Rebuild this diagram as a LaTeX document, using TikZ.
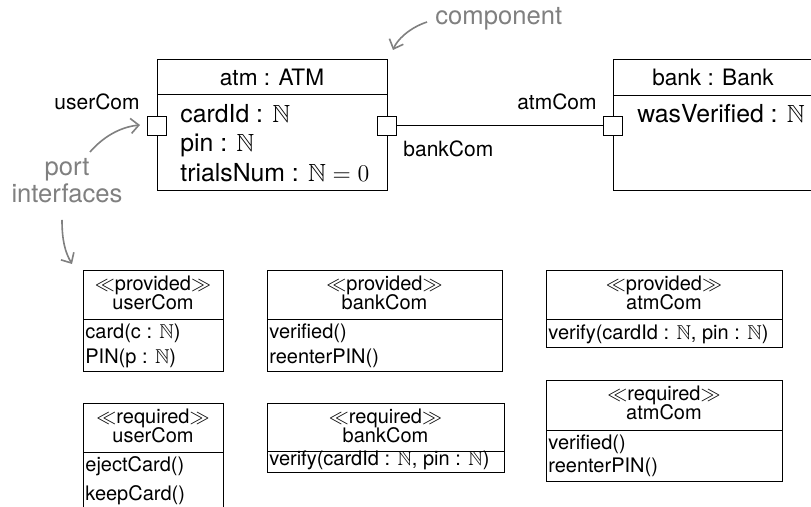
\documentclass[tikz,border=0pt]{standalone}
\usepackage{amssymb}
\usepackage{fontspec}
\setmainfont{TeX Gyre Heros}
\usetikzlibrary{arrows.meta,fit}

\newcommand{\Nat}{\ensuremath{\mathbb{N}}}
\newcommand{\stereo}[1]{$\ll$#1$\gg$}

\definecolor{notegray}{HTML}{808080}

\tikzset{
  titletxt/.style={inner sep=0pt, font=\fontsize{11.3}{13.5}\selectfont},
  txt/.style={inner sep=0pt, font=\fontsize{10.5}{12.5}\selectfont},
  attrtxt/.style={inner sep=0pt, font=\fontsize{12.4}{15}\selectfont},
  smalltxt/.style={inner sep=0pt, font=\fontsize{10}{12}\selectfont},
  notetxt/.style={inner sep=0pt, text=notegray, font=\fontsize{12.8}{15}\selectfont},
  frame/.style={draw, line width=0.5pt, inner sep=0pt},
  port/.style={draw, line width=0.5pt, fill=white, minimum size=9.5pt, inner sep=0pt},
  wire/.style={line width=0.5pt},
  notearrow/.style={draw=notegray, line width=0.8pt,
    -{Straight Barb[length=4pt,width=7.5pt]}},
}

\begin{document}
\begin{tikzpicture}[x=0.5pt,y=-0.5pt]
\clip (0,0) rectangle (811,507);
\fill[white] (0,0) rectangle (811,507);

% ---------- components ----------
\node[frame, fit={(157,60) (387,191)}] (atm) {};
\draw[wire] (157,95) -- (387,95);
\node[titletxt, anchor=base] (atmT) at (272,86) {atm : ATM};
\node[attrtxt, anchor=base west] (atmA1) at (180,123) {cardId : \Nat};
\node[attrtxt, anchor=base west] (atmA2) at (180,152) {pin : \Nat};
\node[attrtxt, anchor=base west] (atmA3) at (180,182) {trialsNum : $\mathbb{N}=0$};

\node[frame, fit={(613,60) (815,191)}] (bank) {};
\draw[wire] (613,96) -- (815,96);
\node[titletxt, anchor=base] (bankT) at (713,86) {bank : Bank};
\node[attrtxt, anchor=base west] (bankA1) at (637,123) {wasVerified : \Nat};

% ---------- ports and the connector ----------
\node[port] (pUser) at (157,126) {};
\node[port] (pBankCom) at (387,126) {};
\node[port] (pAtmCom) at (613,126) {};
\draw[wire] (pBankCom.east) -- (pAtmCom.west);

\node[txt, anchor=base east] (lUser) at (140,110) {userCom};
\node[txt, anchor=base west] (lBankCom) at (403,157) {bankCom};
\node[txt, anchor=base east] (lAtmCom) at (597,110) {atmCom};

% ---------- notes ----------
\node[notetxt, anchor=base west] (nComp) at (435,25) {component};
\node[notetxt, anchor=base] (nPort1) at (67,176) {port};
\node[notetxt, anchor=base] (nPort2) at (67,203) {interfaces};
\coordinate (cCompFrom) at (427,22);
\coordinate (cCompTo) at (393,50);
\coordinate (cPortFrom) at (90,152);
\coordinate (cPortTo) at (140,125);
\coordinate (cIfFrom) at (62,220);
\coordinate (cIfTo) at (72,264);
\draw[notearrow] (cCompFrom) .. controls (409,28) and (397,40) .. (cCompTo);
\draw[notearrow] (cPortFrom) .. controls (103,137) and (120,127) .. (cPortTo);
\draw[notearrow] (cIfFrom) .. controls (62,240) and (65,252) .. (cIfTo);

% ---------- interfaces ----------
% provided userCom
\node[frame, fit={(83,271) (223,372)}] (ifPU) {};
\draw[wire] (83,320) -- (223,320);
\node[smalltxt, anchor=base] (ifPUs) at (153,291) {\stereo{provided}};
\node[smalltxt, anchor=base] (ifPUn) at (153,310) {userCom};
\node[smalltxt, anchor=base west] (ifPU1) at (85,339) {card(c : \Nat)};
\node[smalltxt, anchor=base west] (ifPU2) at (85,364) {PIN(p : \Nat)};

% provided bankCom
\node[frame, fit={(267,271) (502,372)}] (ifPB) {};
\draw[wire] (267,320) -- (502,320);
\node[smalltxt, anchor=base] (ifPBs) at (384.5,291) {\stereo{provided}};
\node[smalltxt, anchor=base] (ifPBn) at (384.5,310) {bankCom};
\node[smalltxt, anchor=base west] (ifPB1) at (269,339) {verified()};
\node[smalltxt, anchor=base west] (ifPB2) at (269,364) {reenterPIN()};

% provided atmCom
\node[frame, fit={(546,271) (782,348)}] (ifPA) {};
\draw[wire] (546,320) -- (782,320);
\node[smalltxt, anchor=base] (ifPAs) at (664,291) {\stereo{provided}};
\node[smalltxt, anchor=base] (ifPAn) at (664,310) {atmCom};
\node[smalltxt, anchor=base west] (ifPA1) at (548,340) {verify(cardId : \Nat, pin : \Nat)};

% required userCom
\node[frame, fit={(83,404) (223,520)}] (ifRU) {};
\draw[wire] (83,453) -- (223,453);
\node[smalltxt, anchor=base] (ifRUs) at (153,424) {\stereo{required}};
\node[smalltxt, anchor=base] (ifRUn) at (153,443) {userCom};
\node[smalltxt, anchor=base west] (ifRU1) at (85,472) {ejectCard()};
\node[smalltxt, anchor=base west] (ifRU2) at (85,501) {keepCard()};

% required bankCom
\node[frame, fit={(267,404) (504,473)}] (ifRB) {};
\draw[wire] (267,452) -- (504,452);
\node[smalltxt, anchor=base] (ifRBs) at (385.5,424) {\stereo{required}};
\node[smalltxt, anchor=base] (ifRBn) at (385.5,443) {bankCom};
\node[smalltxt, anchor=base west] (ifRB1) at (269,466) {verify(cardId : \Nat, pin : \Nat)};

% required atmCom
\node[frame, fit={(546,381) (782,482)}] (ifRA) {};
\draw[wire] (546,431) -- (782,431);
\node[smalltxt, anchor=base] (ifRAs) at (664,401) {\stereo{required}};
\node[smalltxt, anchor=base] (ifRAn) at (664,420) {atmCom};
\node[smalltxt, anchor=base west] (ifRA1) at (548,450) {verified()};
\node[smalltxt, anchor=base west] (ifRA2) at (548,473) {reenterPIN()};
\end{tikzpicture}
\end{document}
